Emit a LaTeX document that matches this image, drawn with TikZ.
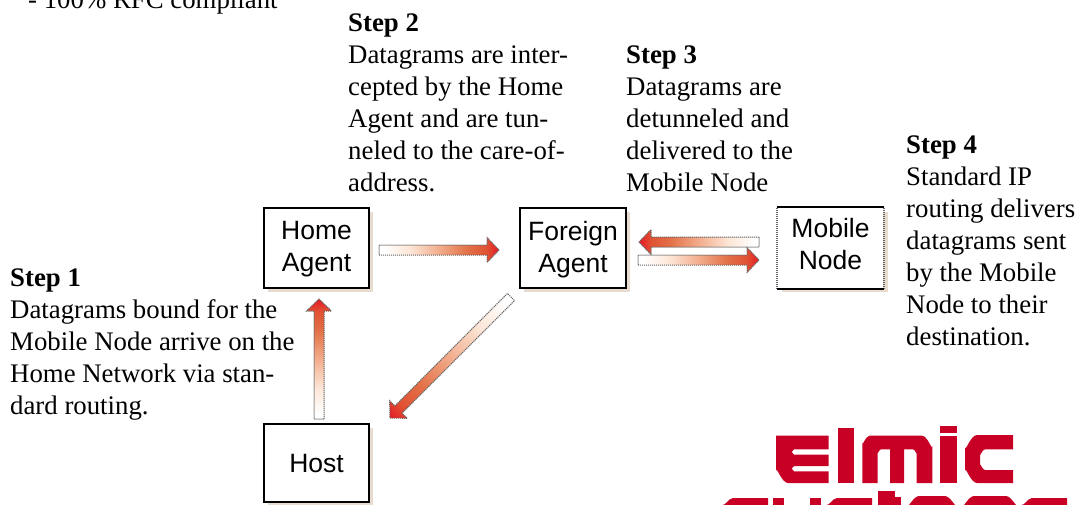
\documentclass[tikz,border=0pt]{standalone}
\usepackage{fontspec}
\setmainfont{Liberation Serif}
\newfontfamily\arialfont{Liberation Sans}
\usetikzlibrary{calc}
\definecolor{logored}{RGB}{200,0,38}
\definecolor{shadowtan}{RGB}{232,220,208}
\pgfdeclarehorizontalshading{fatgrad}{100bp}{rgb(0bp)=(1,1,1);rgb(27bp)=(1,1,1);rgb(38bp)=(0.99,0.90,0.84);rgb(50bp)=(0.95,0.68,0.55);rgb(62bp)=(0.89,0.44,0.28);rgb(70bp)=(0.88,0.32,0.20);rgb(74bp)=(0.90,0.14,0.16);rgb(100bp)=(0.90,0.14,0.16)}
\tikzset{
  box/.style={draw=black,line width=2pt,fill=white,minimum width=105pt,minimum height=80pt,
    inner sep=0pt,font=\arialfont\fontsize{26.5}{32}\selectfont},
  steptext/.style={anchor=north west,inner sep=0pt,align=left,font=\fontsize{26.8}{32}\selectfont},
  shadowbox/.style={fill=shadowtan,draw=none},
  logopart/.style={fill=logored,draw=none}
}
% centred node text, moved up by #1 without changing the box
\newcommand\boxlines[2]{\raisebox{#1}[0pt][0pt]{\begin{tabular}{@{}c@{}}#2\end{tabular}}}
% fat gradient arrow from #1 to #2
\newcommand\fatarrow[2]{%
  \path let \p1=(#1),\p2=(#2),\n1={atan2(\y2-\y1,\x2-\x1)},\n2={veclen(\x2-\x1,\y2-\y1)} in
    \pgfextra{\xdef\faang{\n1}\xdef\falen{\n2}};
  \begin{scope}[transform canvas={shift={(#1)},rotate=\faang}]
    \shade[shading=fatgrad,draw=black!60,line width=1pt,dash pattern=on 1.2pt off 0.8pt]
      (0pt,-5pt) -- (\falen-12pt,-5pt) -- (\falen-12pt,-12.5pt) -- (\falen,0pt)
      -- (\falen-12pt,12.5pt) -- (\falen-12pt,5pt) -- (0pt,5pt) -- cycle;
  \end{scope}}
\begin{document}
\begin{tikzpicture}[x=1pt,y=-1pt]
\useasboundingbox (0,0) rectangle (1076,504);
\begin{scope}
\clip (0,0) rectangle (1076,504);
% shadows
\fill[shadowbox] (268,212) rectangle (373,292);
\fill[shadowbox] (524,212) rectangle (630,292);
\fill[shadowbox] (782,212) rectangle (888,292);
\fill[shadowbox] (268,428) rectangle (373,506);
% nodes
\node[box] (home) at (316.5,248) {\boxlines{-7pt}{Home\\Agent}};
\node[box,minimum width=106pt] (foreign) at (573,248) {\boxlines{-8pt}{Foreign\\Agent}};
\node[box,draw=none] (mobile) at (830.5,248) {\boxlines{-5pt}{Mobile\\Node}};
\draw[black!60,line width=2pt,dash pattern=on 1.2pt off 0.8pt] (mobile.south west) -- (mobile.north west);
\draw[black!60,line width=2pt,dash pattern=on 1.2pt off 0.8pt] (mobile.south east) -- (mobile.north east);
\draw[black,line width=2pt] (mobile.north west) -- (mobile.north east);
\draw[black,line width=2pt] (mobile.south west) -- (mobile.south east);
\node[box,minimum height=78pt] (host) at (316.5,463) {\boxlines{-9pt}{Host}};
% connectors
\fatarrow{$(home.east)+(9,2)$}{$(foreign.west)+(-20,2)$}
\fatarrow{$(host.north)+(2.5,-4)$}{$(home.south)+(2.5,10)$}
\fatarrow{$(foreign.south west)+(-8,8)$}{$(host.north east)+(20,-5)$}
\fatarrow{$(mobile.west)+(-18,-6)$}{$(foreign.east)+(12,-6)$}
\fatarrow{$(foreign.east)+(11,12)$}{$(mobile.west)+(-18,12)$}
% texts
\node[steptext] (t0) at (28,-10) {- 100\% RFC compliant};
\node[steptext] (s1) at (10,269) {\textbf{Step 1}\\Datagrams bound for the\\Mobile Node arrive on the\\Home Network via stan-\\dard routing.};
\node[steptext] (s2) at (348,14) {\textbf{Step 2}\\Datagrams are inter-\\cepted by the Home\\Agent and are tun-\\neled to the care-of-\\address.};
\node[steptext] (s3) at (626,46) {\textbf{Step 3}\\Datagrams are\\detunneled and\\delivered to the\\Mobile Node};
\node[steptext] (s4) at (906,136) {\textbf{Step 4}\\Standard IP\\routing delivers\\datagrams sent\\by the Mobile\\Node to their\\destination.};
% logo: elmic
\fill[logopart] (776,435.7) -- (828.7,435.7) -- (828.7,449.3) -- (794,449.3) -- (791.7,452) -- (794,454.7) -- (828.7,454.7) -- (828.7,466) -- (794,466) -- (791.7,468.6) -- (794,471.3) -- (828.7,471.3) -- (828.7,483) -- (788,483) to[out=180,in=90] (776,471) -- cycle;
\fill[logopart] (838,427.7) rectangle (854,483);
\fill[logopart] (862.3,483) -- (862.3,443) to[out=-90,in=180] (869.6,435.7) -- (922,435.7) to[out=0,in=-90] (932.3,446) -- (932.3,483) -- (916.7,483) -- (916.7,453) to[out=-90,in=0] (913,449.3) -- (904,449.3) -- (904,483) -- (890,483) -- (890,449.3) -- (881,449.3) to[out=180,in=-90] (877.7,452.6) -- (877.7,483) -- cycle;
\fill[logopart] (940,425.7) rectangle (957,433.3);
\fill[logopart] (940,435.7) rectangle (957,483);
\fill[logopart] (1013,435) -- (977,435) to[out=180,in=-90] (965,447) -- (965,471) to[out=90,in=180] (977,483) -- (1013,483) -- (1013,470) -- (985,470) to[out=180,in=90] (980,465) -- (980,454.3) to[out=-90,in=180] (985,449.3) -- (1013,449.3) -- cycle;
% logo: systems (cut by the page edge)
\fill[logopart] (723,506) -- (723,504) to[out=-90,in=180] (733,498) -- (768,498) -- (768,506) -- cycle;
\fill[logopart] (773,498) rectangle (784,506);
\fill[logopart] (810,498) rectangle (821,506);
\fill[logopart] (827,506) -- (827,504) to[out=-90,in=180] (837,498) -- (872,498) -- (872,506) -- cycle;
\fill[logopart] (878,491) rectangle (895,506);
\fill[logopart] (895,497) rectangle (900.7,506);
\fill[logopart] (907,506) -- (907,505) to[out=-90,in=180] (919,496) -- (945,496) to[out=0,in=-90] (957,505) -- (957,506) -- cycle;
\fill[logopart] (962,506) -- (962,505) to[out=-90,in=180] (974,496) -- (1006,496) to[out=0,in=-90] (1018,505) -- (1018,506) -- cycle;
\fill[logopart] (1022,506) -- (1022,504) to[out=-90,in=180] (1032,498) -- (1067,498) -- (1067,506) -- cycle;
\end{scope}
\end{tikzpicture}
\end{document}
